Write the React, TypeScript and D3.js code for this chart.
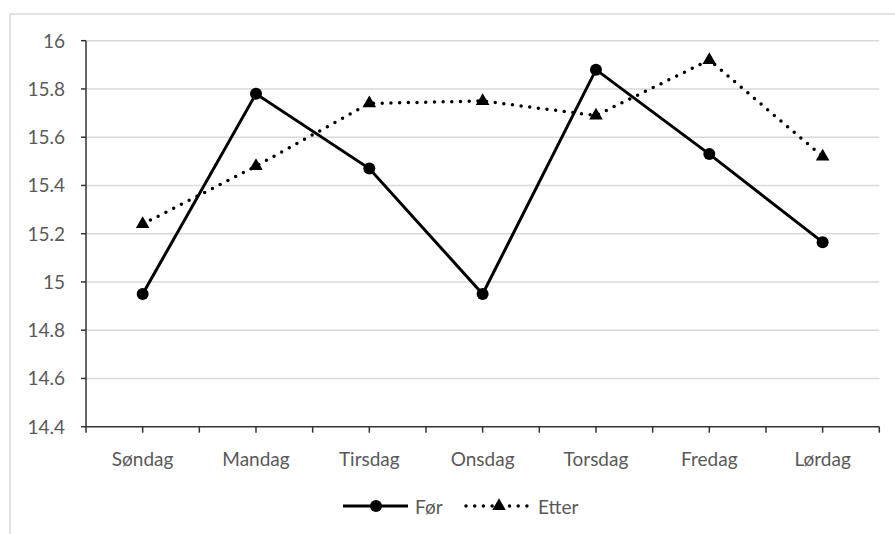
import React from "react";
import * as d3 from "d3";

const categories = ["Søndag", "Mandag", "Tirsdag", "Onsdag", "Torsdag", "Fredag", "Lørdag"];
const forValues = [14.95, 15.78, 15.47, 14.95, 15.88, 15.53, 15.165];
const etterValues = [15.24, 15.48, 15.74, 15.75, 15.69, 15.92, 15.52];
const yTicks = [14.4, 14.6, 14.8, 15, 15.2, 15.4, 15.6, 15.8, 16];
const seriesNames = ["Før", "Etter"];

const W = 895, H = 534;
const left = 86, right = 879.3, top = 40.7, bottom = 426.7;
const font = "Lato, 'Open Sans', sans-serif";
const textColor = "#595959";
const fs = 19;

export default function App() {
  const x = d3.scaleBand<string>().domain(categories).range([left, right]).padding(0);
  const y = d3.scaleLinear().domain([14.4, 16]).range([bottom, top]);
  const cx = (c: string) => (x(c) as number) + x.bandwidth() / 2;
  const line = d3.line<number>().x((_, i) => cx(categories[i])).y((d) => y(d));
  const tri = d3.symbol().type(d3.symbolTriangle).size(80)() as string;

  const tickXs: number[] = [];
  for (let k = 0; k <= categories.length * 2; k++) tickXs.push(left + (k * x.bandwidth()) / 2);

  return (
    <svg width={W} height={H} style={{ position: "absolute", left: 0, top: 0, background: "#fff" }}>
      <rect x={10} y={14} width={W} height={H} fill="#fff" stroke="#d9d9d9" strokeWidth={1.5} />
      {yTicks.map((t) => (
        <g key={t}>
          {t !== 14.4 && (
            <line x1={left} x2={right} y1={y(t)} y2={y(t)} stroke="#d9d9d9" strokeWidth={1.5} />
          )}
          <line x1={left - 5} x2={left} y1={y(t)} y2={y(t)} stroke="#333" strokeWidth={1.5} />
          <text x={65} y={y(t)} dy="0.36em" textAnchor="end" fontFamily={font} fontSize={fs} fill={textColor}>
            {String(t)}
          </text>
        </g>
      ))}
      <line x1={left} x2={left} y1={top} y2={bottom} stroke="#333" strokeWidth={1.5} />
      <line x1={left} x2={right} y1={bottom} y2={bottom} stroke="#333" strokeWidth={1.5} />
      {tickXs.map((tx, i) => (
        <line key={i} x1={tx} x2={tx} y1={bottom} y2={bottom + 6} stroke="#333" strokeWidth={1.5} />
      ))}
      {categories.map((c) => (
        <text key={c} x={cx(c)} y={466} textAnchor="middle" fontFamily={font} fontSize={fs} fill={textColor}>
          {c}
        </text>
      ))}
      <path d={line(etterValues) as string} fill="none" stroke="#000" strokeWidth={3.5} strokeDasharray="0 8.7" strokeLinecap="round" />
      <path d={line(forValues) as string} fill="none" stroke="#000" strokeWidth={3} />
      {forValues.map((v, i) => (
        <circle key={i} cx={cx(categories[i])} cy={y(v)} r={6} fill="#000" />
      ))}
      {etterValues.map((v, i) => (
        <path key={i} d={tri} transform={`translate(${cx(categories[i])},${y(v)})`} fill="#000" />
      ))}
      <g>
        <line x1={343} x2={408} y1={506} y2={506} stroke="#000" strokeWidth={3} />
        <circle cx={376} cy={506} r={6} fill="#000" />
        <text x={415} y={507} dy="0.35em" fontFamily={font} fontSize={fs} fill={textColor}>{seriesNames[0]}</text>
        <line x1={466} x2={527} y1={506} y2={506} stroke="#000" strokeWidth={3.5} strokeDasharray="0 8.7" strokeLinecap="round" />
        <path d={tri} transform="translate(499,506)" fill="#000" />
        <text x={538} y={507} dy="0.35em" fontFamily={font} fontSize={fs} fill={textColor}>{seriesNames[1]}</text>
      </g>
    </svg>
  );
}
